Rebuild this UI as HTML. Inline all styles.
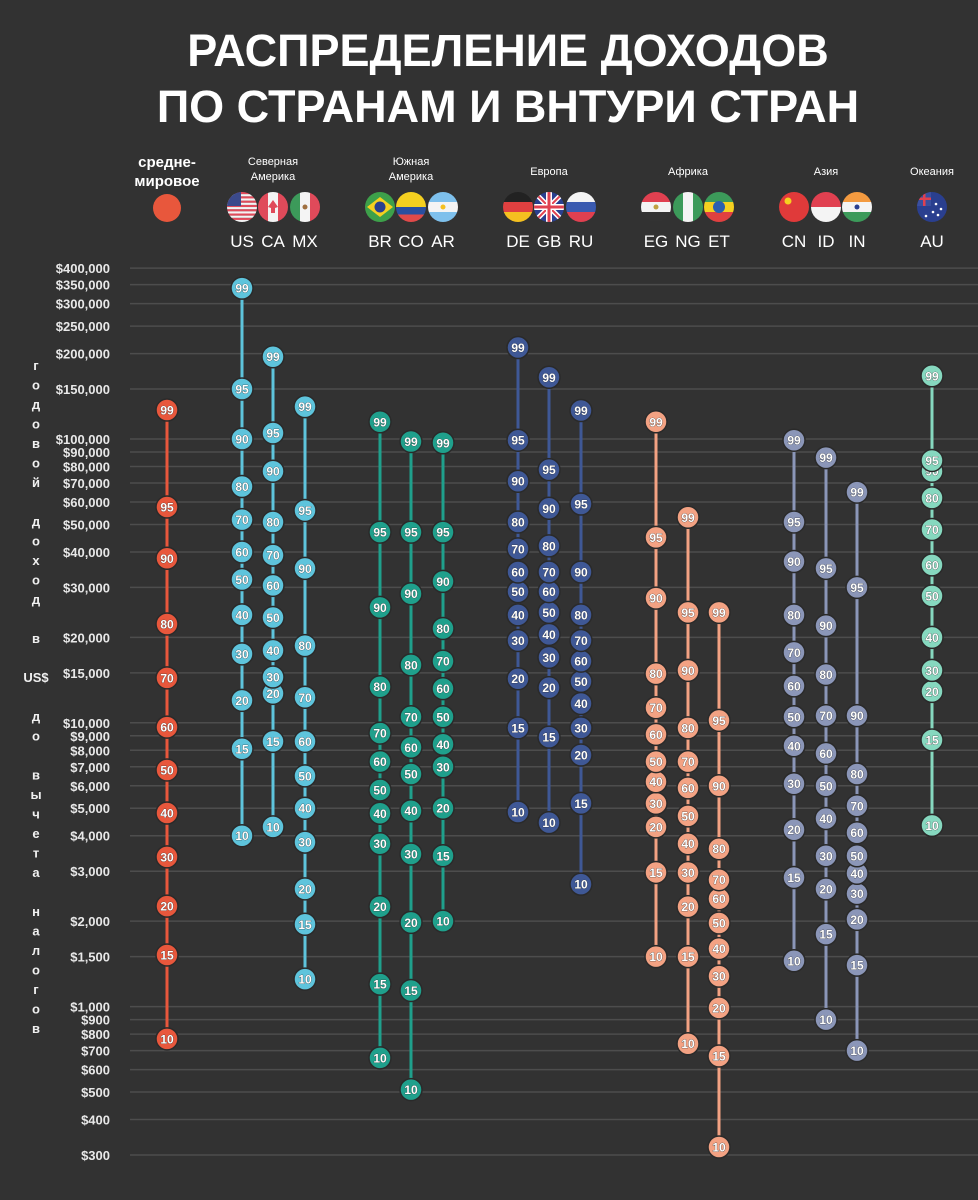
<!DOCTYPE html>
<html><head><meta charset="utf-8">
<style>
html,body{margin:0;padding:0;background:#323232;}
body{width:978px;height:1200px;overflow:hidden;font-family:"Liberation Sans","Noto Sans CJK SC",sans-serif;}
svg{display:block}
</style></head>
<body>
<svg id="chart" width="978" height="1200" viewBox="0 0 978 1200" xmlns="http://www.w3.org/2000/svg">
<rect width="978" height="1200" fill="#323232"/>
<text x="508" y="66" text-anchor="middle" fill="#fff" font-weight="bold" font-size="45" font-family="Liberation Sans, sans-serif">РАСПРЕДЕЛЕНИЕ ДОХОДОВ</text>
<text x="508" y="122" text-anchor="middle" fill="#fff" font-weight="bold" font-size="45" font-family="Liberation Sans, sans-serif">ПО СТРАНАМ И ВНТУРИ СТРАН</text>
<g id="grid"></g><g id="ylabels"></g><g id="ytitle"></g><g id="header"></g><g id="series"></g>
</svg>
<script>
const ticks=[400000,350000,300000,250000,200000,150000,100000,90000,80000,70000,60000,50000,40000,30000,20000,15000,10000,9000,8000,7000,6000,5000,4000,3000,2000,1500,1000,900,800,700,600,500,400,300];
const percentiles=[10,15,20,30,40,50,60,70,80,90,95,99];
const world=[770,1520,2260,3370,4810,6820,9660,14400,22300,38000,57600,126500];
const US=[4000,8100,12000,17500,24000,32000,40000,52000,68000,100000,150000,340000];
const CA=[4300,8600,12700,14500,18000,23500,30500,39000,51000,77000,105000,195000];
const MX=[1250,1950,2600,3800,5000,6500,8600,12300,18700,35000,56000,130000];
const BR=[660,1200,2250,3750,4800,5800,7300,9200,13400,25500,47000,115000];
const CO=[510,1140,1980,3450,4900,6600,8200,10500,16000,28500,47000,98000];
const AR=[2000,3400,5000,7000,8400,10500,13200,16500,21500,31500,47000,97000];
const DE=[4850,9600,14300,19500,24000,29000,34000,41000,51000,71000,99000,210000];
const GB=[4450,8900,13300,17000,20500,24500,29000,34000,42000,57000,78000,165000];
const RU=[2700,5200,7700,9600,11700,14000,16500,19500,24000,34000,59000,126000];
const EG=[1500,2970,4300,5200,6200,7300,9100,11300,14900,27500,45000,115000];
const NG=[740,1500,2250,2970,3750,4700,5900,7300,9600,15300,24500,53000];
const ET=[320,670,990,1280,1600,1970,2400,2800,3600,6000,10200,24500];
const CN=[1450,2850,4200,6100,8300,10500,13500,17700,24000,37000,51000,99000];
const ID=[900,1800,2600,3400,4600,6000,7800,10600,14800,22000,35000,86000];
const IN=[700,1400,2030,2500,2950,3400,4100,5100,6600,10600,30000,65000];
const AU=[4350,8700,12900,15300,20000,28000,36000,48000,62000,77000,84000,167000];
const ytitleChars=["г","о","д","о","в","о","й","","д","о","х","о","д","","в","","US$","","д","о","","в","ы","ч","е","т","а","","н","а","л","о","г","о","в"];

const NS="http://www.w3.org/2000/svg";
function mk(tag,attrs,parent){const e=document.createElementNS(NS,tag);for(const k in attrs)e.setAttribute(k,attrs[k]);if(parent)parent.appendChild(e);return e;}
function y(v){return 1155-(Math.log10(v)-Math.log10(300))*283.8;}
function fmt(v){return "$"+v.toLocaleString("en-US");}

const grid=document.getElementById("grid"),yl=document.getElementById("ylabels");
ticks.forEach(t=>{
  const l=mk("line",{x1:130,x2:978,y1:y(t),y2:y(t),stroke:"#4d4d4d","stroke-width":1.5},grid);
  
  
  const tx=mk("text",{x:110,y:y(t)+5,"text-anchor":"end",fill:"#e8e8e8","font-size":13,"font-weight":"bold"},yl);
  tx.textContent=fmt(t);
  
  
});
const yt=document.getElementById("ytitle");
ytitleChars.forEach((c,i)=>{
  if(!c)return;
  const t=mk("text",{x:36,y:365+i*19.5+5,"text-anchor":"middle",fill:"#f0f0f0","font-size":13,"font-weight":"bold"},yt);
  t.textContent=c;
  
  
});

const hdr=document.getElementById("header");
function txt(x,yy,s,size,bold,name){const t=mk("text",{x:x,y:yy,"text-anchor":"middle",fill:"#fff","font-size":size,"font-weight":bold?"bold":"normal"},hdr);t.textContent=s;return t;}
txt(167,167,"средне-",15,true,"world-label");
txt(167,186,"мировое",15,true,"world-label");
const wc=mk("circle",{cx:167,cy:208,r:14,fill:"#e8573c"},hdr);


const regions=[["Северная","Америка",273],["Южная","Америка",411],["Европа","",549],["Африка","",688],["Азия","",826],["Океания","",932]];
regions.forEach(r=>{
  if(r[1]){txt(r[2],165,r[0],11,false,"region-label");txt(r[2],180,r[1],11,false,"region-label");}
  else txt(r[2],175,r[0],11,false,"region-label");
});
let fid=0;
function flag(cx,code){
  const id="c"+(fid++);
  const g=mk("g",{},hdr);
  
  
  const cp=mk("clipPath",{id:id},g);mk("circle",{cx:cx,cy:207,r:15},cp);
  const f=mk("g",{"clip-path":"url(#"+id+")"},g);
  const x0=cx-15,y0=192;
  const R=(x,yy,w,h,c)=>mk("rect",{x:x0+x,y:y0+yy,width:w,height:h,fill:c},f);
  const H=(cols)=>cols.forEach((c,i)=>R(0,i*30/cols.length,30,30/cols.length+0.5,c));
  const V=(cols)=>cols.forEach((c,i)=>R(i*30/cols.length,0,30/cols.length+0.5,30,c));
  switch(code){
    case"US":for(let i=0;i<7;i++)R(0,i*4.3,30,2.2,"#e04a5a");R(0,2.2,30,0,"#fff");
      for(let i=0;i<7;i++)R(0,i*4.3+2.15,30,2.15,"#f4f4f4");R(0,0,14,14,"#3b4a8c");break;
    case"CA":V(["#e04a5a","#f4f4f4","#e04a5a"]);mk("polygon",{points:`${cx},200 ${cx+5},207 ${cx+2},208 ${cx+2},213 ${cx-2},213 ${cx-2},208 ${cx-5},207`,fill:"#e04a5a"},f);break;
    case"MX":V(["#3c9a5a","#f4f4f4","#e04a5a"]);mk("circle",{cx:cx,cy:207,r:2.5,fill:"#a07040"},f);break;
    case"BR":R(0,0,30,30,"#3da04a");mk("polygon",{points:`${cx-13},207 ${cx},197 ${cx+13},207 ${cx},217`,fill:"#f5d020"},f);mk("circle",{cx:cx,cy:207,r:5.5,fill:"#2a3f8f"},f);break;
    case"CO":R(0,0,30,15,"#f5d020");R(0,15,30,8,"#2a4fa0");R(0,22.5,30,7.5,"#e04a4a");break;
    case"AR":H(["#7ec0ec","#f4f4f4","#7ec0ec"]);mk("circle",{cx:cx,cy:207,r:2.5,fill:"#f5c020"},f);break;
    case"DE":H(["#222","#e04040","#f5c020"]);break;
    case"GB":R(0,0,30,30,"#2a3f8f");mk("path",{d:`M${x0} ${y0}L${x0+30} ${y0+30}M${x0+30} ${y0}L${x0} ${y0+30}`,stroke:"#fff","stroke-width":5},f);
      mk("path",{d:`M${x0} ${y0}L${x0+30} ${y0+30}M${x0+30} ${y0}L${x0} ${y0+30}`,stroke:"#e04050","stroke-width":2},f);
      R(12,0,6,30,"#fff");R(0,12,30,6,"#fff");R(13.5,0,3,30,"#e04050");R(0,13.5,30,3,"#e04050");break;
    case"RU":H(["#f4f4f4","#3a5ab0","#e04050"]);break;
    case"EG":H(["#e04050","#f4f4f4","#333"]);mk("circle",{cx:cx,cy:207,r:2.5,fill:"#c0a040"},f);break;
    case"NG":V(["#3c9a5a","#f4f4f4","#3c9a5a"]);break;
    case"ET":H(["#3c9a5a","#f5d020","#e04040"]);mk("circle",{cx:cx,cy:207,r:6,fill:"#2a5fb0"},f);break;
    case"CN":R(0,0,30,30,"#e03a3a");mk("circle",{cx:cx-6,cy:201,r:3.5,fill:"#f5d020"},f);break;
    case"ID":H(["#e04050","#f4f4f4"]);break;
    case"IN":H(["#f39a40","#f4f4f4","#3c9a5a"]);mk("circle",{cx:cx,cy:207,r:2.5,fill:"#2a3f8f"},f);break;
    case"AU":R(0,0,30,30,"#2a3f8f");R(0,0,14,14,"#3a4f9f");R(6,0,2.5,14,"#e04050");R(0,5.5,14,2.5,"#e04050");
      [[8,8],[6,-3],[11,2],[3,5],[-4,9]].forEach(p=>mk("circle",{cx:cx+p[0]-2,cy:207+p[1],r:1.3,fill:"#fff"},f));break;
  }
  txt(cx,247,code,17,false,"country-code-"+code.toLowerCase());
}

const countries=[
 ["world",167,world,"#e8573c"],
 ["US",242,US,"#5ec4dc"],["CA",273,CA,"#5ec4dc"],["MX",305,MX,"#5ec4dc"],
 ["BR",380,BR,"#1fa08c"],["CO",411,CO,"#1fa08c"],["AR",443,AR,"#1fa08c"],
 ["DE",518,DE,"#3f5896"],["GB",549,GB,"#3f5896"],["RU",581,RU,"#3f5896"],
 ["EG",656,EG,"#f3a283"],["NG",688,NG,"#f3a283"],["ET",719,ET,"#f3a283"],
 ["CN",794,CN,"#8b96b8"],["ID",826,ID,"#8b96b8"],["IN",857,IN,"#8b96b8"],
 ["AU",932,AU,"#86d8bf"]];
const ser=document.getElementById("series");
countries.forEach(c=>{
  const [code,x,vals,col]=c;
  if(code!=="world")flag(x,code);
  const g=mk("g",{},ser);
  
  
  const ln=mk("line",{x1:x,x2:x,y1:y(Math.max(...vals)),y2:y(Math.min(...vals)),stroke:col,"stroke-width":3},g);
  
  
  vals.forEach((v,i)=>{
    const m=mk("g",{},g);
    
    
    mk("circle",{cx:x,cy:y(v),r:11,fill:col,stroke:"#2a2a2a","stroke-width":1.5},m);
    const t=mk("text",{x:x,y:y(v)+4.5,"text-anchor":"middle",fill:"#fff","font-size":12,"font-weight":"bold",stroke:"#333","stroke-width":0.6,"paint-order":"stroke"},m);
    t.textContent=percentiles[i];
  });
});
</script>
</body></html>
